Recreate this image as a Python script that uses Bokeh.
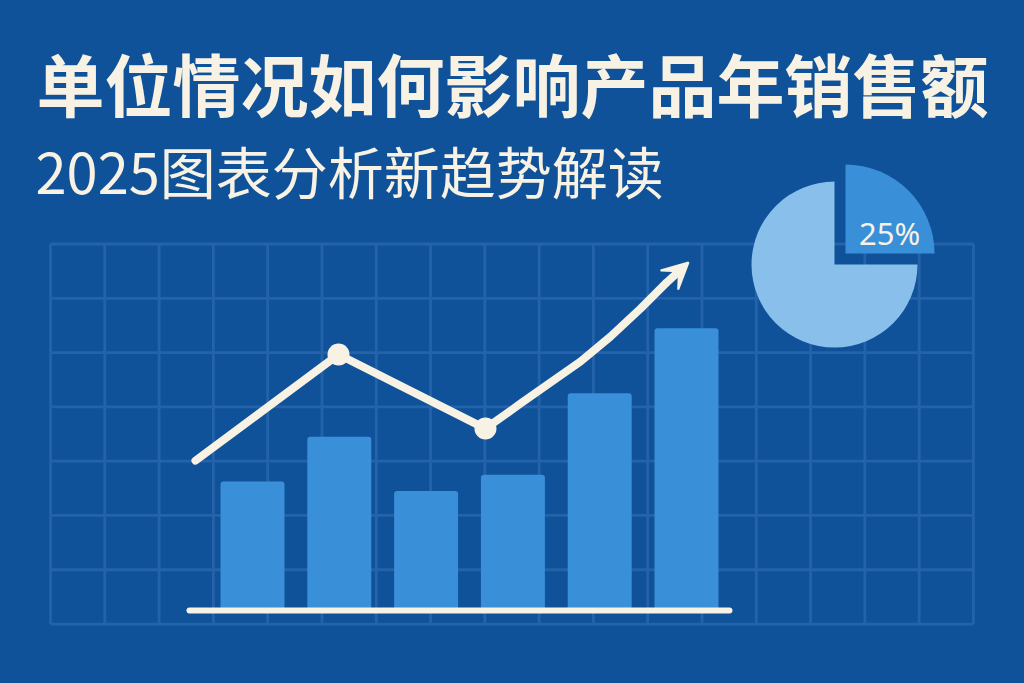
import numpy as np
from bokeh.plotting import figure
from bokeh.models import Range1d, Label, Arrow, VeeHead
from bokeh.embed import file_html
from bokeh.resources import INLINE

# ---------------- data ----------------
title_text = "单位情况如何影响产品年销售额"
subtitle_text = "2025图表分析新趋势解读"

periods = [1, 2, 3, 4, 5, 6]
sales = [47.5, 64, 44, 50, 80, 104]

trend_x = [0.343, 1.991, 3.684, 4.088, 4.433, 4.779, 5.124, 5.470, 5.758, 6.023]
trend_y = [55.2, 94.3, 67.0, 76.2, 84.0, 91.7, 100.9, 111.2, 120.4, 128.2]
marker_idx = [1, 2]

pie_shares = [25, 75]

# ---------------- style ----------------
BG = "#0f529a"
GRID = "#2463a9"
BAR = "#3a8fd9"
PIE_LIGHT = "#88bfeb"
CREAM = "#f7f2e4"

W, H = 1024, 683
p = figure(width=W, height=H, output_backend="svg", toolbar_location=None,
           x_range=Range1d(-1.9032, 9.8940), y_range=Range1d(-26.89, 224.68),
           x_axis_location=None, y_axis_location=None, min_border=0,
           background_fill_color=BG, border_fill_color=BG, outline_line_color=None)
p.xgrid.visible = False
p.ygrid.visible = False

# background grid (decorative)
gx = np.linspace(-1.327, 9.306, 18)
gy = np.arange(-5, 136, 20)
p.segment(x0=gx, x1=gx, y0=gy[0], y1=gy[-1], line_color=GRID, line_width=2.8)
p.segment(x0=gx[0], x1=gx[-1], y0=gy, y1=gy, line_color=GRID, line_width=2.8)

# bars
p.vbar(x=periods, top=sales, bottom=0, width=0.737, fill_color=BAR, line_color=None,
       border_radius=3)

# baseline
p.segment(x0=[0.274], x1=[6.495], y0=[0], y1=[0], line_color=CREAM, line_width=6,
          line_cap="round")

# trend line
p.line(trend_x[:-1], trend_y[:-1], line_color=CREAM, line_width=8,
       line_cap="round", line_join="round")
p.scatter([trend_x[i] for i in marker_idx], [trend_y[i] for i in marker_idx],
          size=22, fill_color=CREAM, line_color=None)
p.add_layout(Arrow(end=VeeHead(size=26, fill_color=CREAM, line_color=CREAM, line_width=2),
                   x_start=trend_x[-2], y_start=trend_y[-2],
                   x_end=trend_x[-1], y_end=trend_y[-1],
                   line_color=CREAM, line_width=8))

# pie
frac = np.array(pie_shares) / sum(pie_shares)
a1 = 2 * np.pi * frac[0]
p.wedge(x=[7.705], y=[127.4], radius=83, radius_units="screen",
        start_angle=a1, end_angle=2 * np.pi, fill_color=PIE_LIGHT, line_color=None)
p.wedge(x=[7.832], y=[131.5], radius=89, radius_units="screen",
        start_angle=0, end_angle=a1, fill_color=BAR, line_color=None)
p.add_layout(Label(x=8.339, y=139.2, text=f"{pie_shares[0]}%", text_font="Noto Sans",
                   text_font_size="31px", text_color=CREAM, text_align="center",
                   text_baseline="middle"))

# titles
p.add_layout(Label(x=-1.4885, y=194.5, text=title_text, text_font="Noto Sans CJK SC",
                   text_font_style="bold", text_font_size="68px", text_color=CREAM,
                   text_baseline="middle"))
p.add_layout(Label(x=-1.500, y=162.4, text=subtitle_text, text_font="Noto Sans CJK SC",
                   text_font_size="56px", text_color=CREAM, text_baseline="middle"))

html = file_html(p, INLINE, title="单位情况如何影响产品年销售额")
html = html.replace(
    "</head>",
    "<style>html,body{background:%s;margin:0;padding:0;overflow:hidden;}</style></head>" % BG,
    1)
open("out.html", "w").write(html)
